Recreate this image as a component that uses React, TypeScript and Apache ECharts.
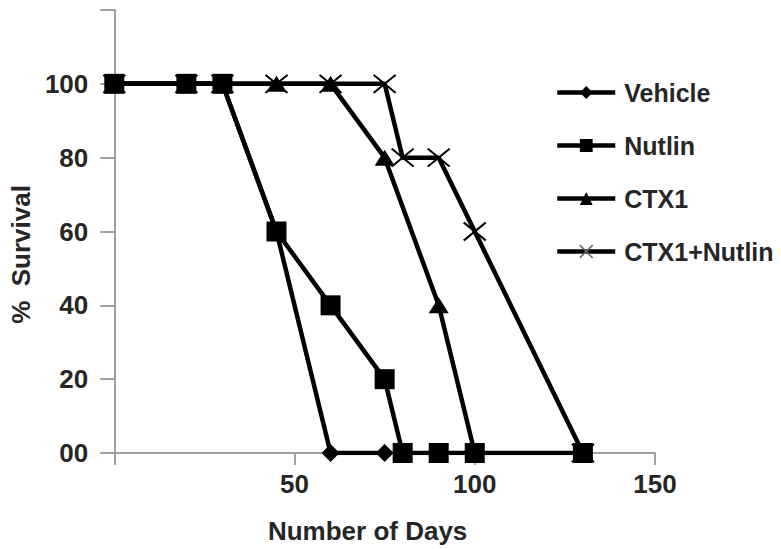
import React, { useEffect, useRef } from "react";
import * as echarts from "echarts";

const seriesNames = ["Vehicle", "Nutlin", "CTX1", "CTX1+Nutlin"];

const vehicleDays = [0, 20, 30, 45, 60, 75];
const vehicleSurvival = [100, 100, 100, 60, 0, 0];

const nutlinDays = [0, 20, 30, 45, 60, 75, 80, 90, 100, 130];
const nutlinSurvival = [100, 100, 100, 60, 40, 20, 0, 0, 0, 0];

const ctx1Days = [0, 20, 30, 45, 60, 75, 90, 100];
const ctx1Survival = [100, 100, 100, 100, 100, 80, 40, 0];

const comboDays = [0, 20, 30, 45, 60, 75, 80, 90, 100, 130];
const comboSurvival = [100, 100, 100, 100, 100, 100, 80, 80, 60, 0];

const xTickLabels = ["", "50", "100", "150"];
const yTickLabels = ["00", "20", "40", "60", "80", "100", ""];

const FONT = "Liberation Sans, Arial, sans-serif";
const TEXT = "#262626";
const AXIS = "#a0a0a0";
const CROSS = "path://M0,0L22,18M22,0L0,18";

const pairs = (xs: number[], ys: number[]) => xs.map((x, i) => [x, ys[i]]);

export default function App() {
  const ref = useRef<HTMLDivElement>(null);
  useEffect(() => {
    if (!ref.current) return;
    document.body.style.margin = "0";
    const chart = echarts.init(ref.current, undefined, { renderer: "svg" });
    const line = { color: "#000", width: 4.5 };
    chart.setOption({
      animation: false,
      backgroundColor: "#fff",
      grid: { left: 114, right: 126, top: 10, bottom: 96 },
      legend: {
        orient: "vertical",
        left: 550,
        top: 75,
        itemWidth: 58,
        itemHeight: 16,
        itemGap: 28,
        lineStyle: { width: 4.5, color: "#000" },
        textStyle: {
          fontFamily: FONT,
          fontWeight: "bold",
          fontSize: 25,
          color: TEXT,
          padding: [0, 0, 0, 4],
        },
        data: [
          { name: seriesNames[0] },
          { name: seriesNames[1] },
          { name: seriesNames[2] },
          { name: seriesNames[3], itemStyle: { borderColor: "#666", borderWidth: 1.5, color: "none" } },
        ],
      },
      xAxis: {
        type: "value",
        min: 0,
        max: 150,
        interval: 50,
        name: "Number of Days",
        nameLocation: "middle",
        nameGap: 65,
        nameTextStyle: {
          fontFamily: FONT,
          fontWeight: "bold",
          fontSize: 26,
          color: TEXT,
          padding: [0, 34, 0, 0],
        },
        axisLine: { show: true, lineStyle: { color: AXIS, width: 2 } },
        axisTick: { show: true, length: 12, lineStyle: { color: AXIS, width: 2 } },
        splitLine: { show: false },
        axisLabel: {
          margin: 18,
          fontFamily: FONT,
          fontWeight: "bold",
          fontSize: 26,
          color: TEXT,
          formatter: (v: number) => xTickLabels[Math.round(v / 50)] ?? "",
        },
      },
      yAxis: {
        type: "value",
        min: 0,
        max: 120,
        interval: 20,
        name: "%  Survival",
        nameLocation: "middle",
        nameGap: 75,
        nameRotate: 90,
        nameTextStyle: {
          fontFamily: FONT,
          fontWeight: "bold",
          fontSize: 26,
          color: TEXT,
          padding: [0, 46, 0, 0],
        },
        axisLine: { show: true, lineStyle: { color: AXIS, width: 2 } },
        axisTick: { show: true, length: 14, lineStyle: { color: AXIS, width: 2 } },
        splitLine: { show: false },
        axisLabel: {
          margin: 26,
          fontFamily: FONT,
          fontWeight: "bold",
          fontSize: 26,
          color: TEXT,
          formatter: (v: number) => yTickLabels[Math.round(v / 20)] ?? "",
        },
      },
      series: [
        {
          name: seriesNames[0],
          type: "line",
          data: pairs(vehicleDays, vehicleSurvival),
          symbol: "diamond",
          symbolSize: 18,
          itemStyle: { color: "#000" },
          lineStyle: line,
        },
        {
          name: seriesNames[1],
          type: "line",
          data: pairs(nutlinDays, nutlinSurvival),
          symbol: "rect",
          symbolSize: 20,
          itemStyle: { color: "#000" },
          lineStyle: line,
        },
        {
          name: seriesNames[2],
          type: "line",
          data: pairs(ctx1Days, ctx1Survival),
          symbol: "triangle",
          symbolSize: [20, 16],
          itemStyle: { color: "#000" },
          lineStyle: line,
        },
        {
          name: seriesNames[3],
          type: "line",
          data: pairs(comboDays, comboSurvival),
          symbol: CROSS,
          symbolSize: [22, 18],
          itemStyle: { color: "none", borderColor: "#000", borderWidth: 2 },
          lineStyle: line,
        },
      ],
    });
    return () => chart.dispose();
  }, []);
  return <div ref={ref} style={{ width: 781, height: 549 }} />;
}
